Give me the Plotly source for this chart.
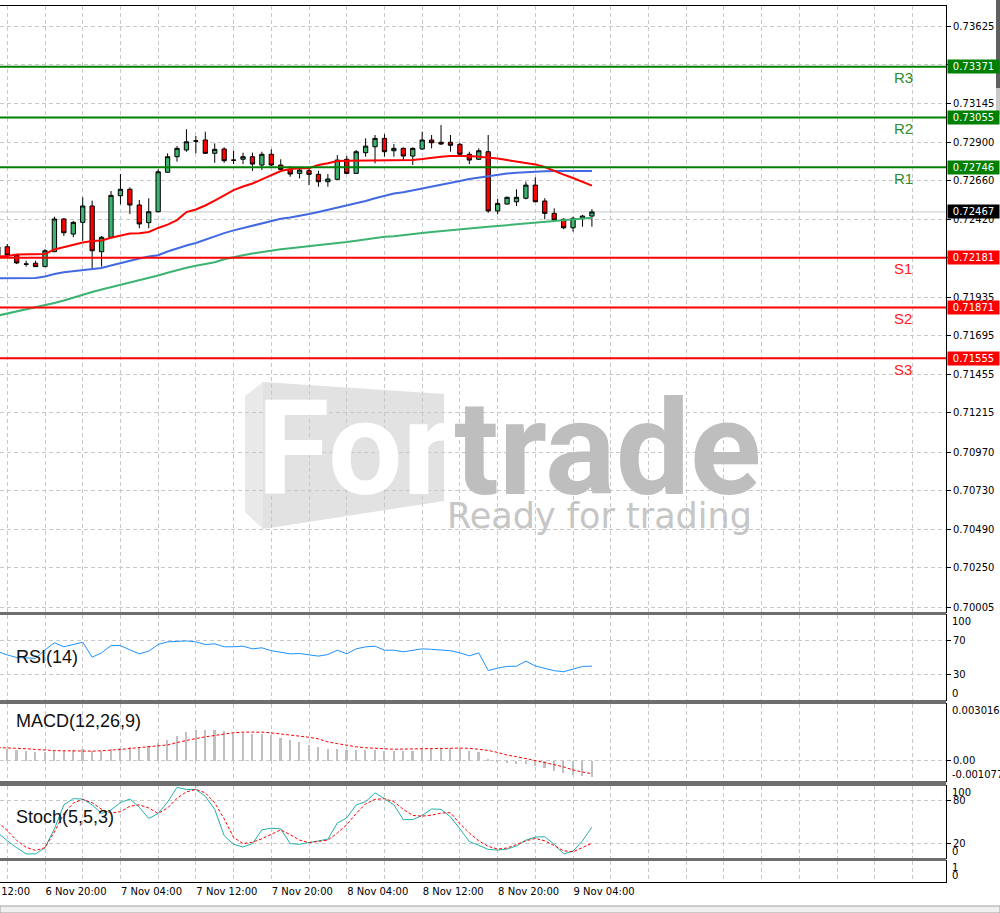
import pandas as pd
import plotly.graph_objects as go
from plotly.subplots import make_subplots

# ---------------- data ----------------
first_bar = "2018-11-06 15:00"          # H1 bars
n_bars = 64
times = pd.date_range(first_bar, periods=n_bars, freq="h")

open_ = [0.72248, 0.72250, 0.72198, 0.72143, 0.72147, 0.72126, 0.72219, 0.72423, 0.72329, 0.72402,
         0.72504, 0.72219, 0.72309, 0.72568, 0.72608, 0.72510, 0.72400, 0.72468, 0.72714, 0.72811,
         0.72853, 0.72910, 0.72915, 0.72832, 0.72859, 0.72790, 0.72795, 0.72811, 0.72759, 0.72826,
         0.72759, 0.72732, 0.72707, 0.72724, 0.72701, 0.72655, 0.72670, 0.72795, 0.72707, 0.72836,
         0.72873, 0.72925, 0.72848, 0.72863, 0.72815, 0.72859, 0.72915, 0.72901, 0.72901, 0.72888,
         0.72826, 0.72795, 0.72842, 0.72473, 0.72516, 0.72530, 0.72552, 0.72634, 0.72535, 0.72458,
         0.72421, 0.72368, 0.72427, 0.72441]
high = [0.72304, 0.72267, 0.72205, 0.72163, 0.72163, 0.72236, 0.72437, 0.72429, 0.72410, 0.72558,
        0.72537, 0.72317, 0.72597, 0.72703, 0.72620, 0.72541, 0.72552, 0.72732, 0.72832, 0.72877,
        0.72982, 0.72940, 0.72967, 0.72894, 0.72869, 0.72848, 0.72836, 0.72836, 0.72842, 0.72857,
        0.72795, 0.72753, 0.72748, 0.72745, 0.72724, 0.72703, 0.72821, 0.72815, 0.72853, 0.72925,
        0.72946, 0.72952, 0.72890, 0.72869, 0.72869, 0.72967, 0.72946, 0.73008, 0.72946, 0.72898,
        0.72842, 0.72863, 0.72946, 0.72547, 0.72562, 0.72608, 0.72655, 0.72682, 0.72552, 0.72489,
        0.72427, 0.72437, 0.72448, 0.72485]
low = [0.72167, 0.72180, 0.72142, 0.72126, 0.72124, 0.72124, 0.72217, 0.72317, 0.72309, 0.72287,
       0.72116, 0.72126, 0.72304, 0.72514, 0.72454, 0.72365, 0.72365, 0.72465, 0.72712, 0.72780,
       0.72842, 0.72832, 0.72830, 0.72773, 0.72773, 0.72765, 0.72765, 0.72722, 0.72728, 0.72753,
       0.72728, 0.72686, 0.72676, 0.72634, 0.72624, 0.72624, 0.72666, 0.72703, 0.72705, 0.72811,
       0.72770, 0.72811, 0.72811, 0.72790, 0.72759, 0.72853, 0.72863, 0.72884, 0.72842, 0.72821,
       0.72765, 0.72790, 0.72462, 0.72452, 0.72512, 0.72504, 0.72545, 0.72528, 0.72421, 0.72406,
       0.72359, 0.72344, 0.72375, 0.72375]
close = [0.72192, 0.72198, 0.72149, 0.72141, 0.72126, 0.72225, 0.72423, 0.72337, 0.72402, 0.72504,
         0.72225, 0.72309, 0.72570, 0.72608, 0.72510, 0.72392, 0.72468, 0.72717, 0.72811, 0.72863,
         0.72904, 0.72908, 0.72832, 0.72857, 0.72786, 0.72789, 0.72811, 0.72765, 0.72826, 0.72759,
         0.72732, 0.72703, 0.72728, 0.72701, 0.72655, 0.72672, 0.72790, 0.72707, 0.72842, 0.72877,
         0.72925, 0.72842, 0.72863, 0.72815, 0.72863, 0.72915, 0.72898, 0.72890, 0.72882, 0.72826,
         0.72790, 0.72848, 0.72473, 0.72520, 0.72558, 0.72558, 0.72634, 0.72530, 0.72458, 0.72416,
         0.72368, 0.72427, 0.72441, 0.72467]

ma_fast = [0.72188, 0.72192, 0.72201, 0.72203, 0.72203, 0.72205, 0.72233, 0.72248, 0.72261, 0.72276,
           0.72286, 0.72289, 0.72306, 0.72320, 0.72332, 0.72334, 0.72342, 0.72367, 0.72388, 0.72416,
           0.72466, 0.72482, 0.72507, 0.72538, 0.72569, 0.72603, 0.72625, 0.72644, 0.72670, 0.72697,
           0.72722, 0.72734, 0.72739, 0.72739, 0.72759, 0.72770, 0.72784, 0.72786, 0.72786, 0.72786,
           0.72786, 0.72787, 0.72790, 0.72790, 0.72790, 0.72796, 0.72805, 0.72811, 0.72815, 0.72817,
           0.72815, 0.72811, 0.72806, 0.72800, 0.72790, 0.72781, 0.72772, 0.72763, 0.72747, 0.72722,
           0.72699, 0.72678, 0.72653, 0.72631]
ma_mid = [0.72053, 0.72053, 0.72053, 0.72053, 0.72055, 0.72064, 0.72080, 0.72091, 0.72097, 0.72103,
          0.72111, 0.72117, 0.72133, 0.72149, 0.72163, 0.72177, 0.72189, 0.72197, 0.72220, 0.72240,
          0.72258, 0.72273, 0.72295, 0.72317, 0.72335, 0.72352, 0.72367, 0.72381, 0.72395, 0.72410,
          0.72424, 0.72432, 0.72441, 0.72454, 0.72467, 0.72480, 0.72492, 0.72506, 0.72519, 0.72535,
          0.72552, 0.72569, 0.72582, 0.72590, 0.72601, 0.72611, 0.72622, 0.72634, 0.72646, 0.72659,
          0.72672, 0.72681, 0.72691, 0.72699, 0.72706, 0.72711, 0.72715, 0.72719, 0.72720, 0.72722,
          0.72722, 0.72722, 0.72722, 0.72722]
ma_slow = [0.71821, 0.71834, 0.71845, 0.71857, 0.71870, 0.71884, 0.71899, 0.71915, 0.71934, 0.71952,
           0.71968, 0.71983, 0.71997, 0.72011, 0.72027, 0.72041, 0.72055, 0.72071, 0.72088, 0.72104,
           0.72119, 0.72131, 0.72144, 0.72153, 0.72172, 0.72186, 0.72197, 0.72208, 0.72218, 0.72228,
           0.72234, 0.72241, 0.72247, 0.72253, 0.72258, 0.72264, 0.72272, 0.72279, 0.72287, 0.72295,
           0.72304, 0.72312, 0.72315, 0.72323, 0.72329, 0.72335, 0.72342, 0.72348, 0.72351, 0.72357,
           0.72365, 0.72370, 0.72374, 0.72379, 0.72384, 0.72388, 0.72393, 0.72398, 0.72404, 0.72410,
           0.72415, 0.72420, 0.72425, 0.72431]

rsi = [57, 53, 50, 49.5, 49, 59, 67.3, 62.6, 65.3, 68, 50.4, 55.5, 64, 64, 59, 54.3, 57.5, 65.3, 68.4, 69,
       69.5, 68.4, 65.3, 66.1, 62.6, 62.6, 63.3, 60.2, 61.4, 58, 56, 54.3, 54.7, 53.5, 51.6, 53.5, 58.6,
       54.3, 60.2, 62.5, 63.3, 58.6, 58.6, 56.7, 58.5, 60.2, 59.6, 59, 58, 55.5, 52, 55.5, 34.7, 37.5,
       39.5, 39.8, 45.7, 40, 37.5, 34.5, 33.2, 36.7, 39.5, 39.8]

macd_main = [0.00060, 0.00065, 0.00056, 0.00051, 0.00047, 0.00047, 0.00053, 0.00053, 0.00056, 0.00060,
             0.00053, 0.00053, 0.00061, 0.00070, 0.00074, 0.00074, 0.00079, 0.00095, 0.00112, 0.00134,
             0.00153, 0.00162, 0.00165, 0.00162, 0.00156, 0.00149, 0.00146, 0.00144, 0.00144, 0.00135,
             0.00121, 0.00109, 0.00097, 0.00086, 0.00074, 0.00065, 0.00061, 0.00056, 0.00056, 0.00056,
             0.00056, 0.00053, 0.00051, 0.00051, 0.00054, 0.00060, 0.00063, 0.00065, 0.00065, 0.00060,
             0.00051, 0.00047, 0.00007, -0.00002, -0.00011, -0.00018, -0.00019, -0.00026, -0.00040,
             -0.00053, -0.00067, -0.00076, -0.00083, -0.00084]
macd_signal = [0.00070, 0.00069, 0.00067, 0.00064, 0.00060, 0.00056, 0.00054, 0.00053, 0.00051, 0.00051,
               0.00051, 0.00053, 0.00055, 0.00060, 0.00065, 0.00069, 0.00074, 0.00078, 0.00084, 0.00097,
               0.00109, 0.00118, 0.00127, 0.00134, 0.00142, 0.00149, 0.00152, 0.00153, 0.00152, 0.00148,
               0.00142, 0.00138, 0.00133, 0.00125, 0.00116, 0.00100, 0.00091, 0.00081, 0.00074, 0.00069,
               0.00065, 0.00063, 0.00061, 0.00062, 0.00063, 0.00065, 0.00068, 0.00069, 0.00069, 0.00067,
               0.00066, 0.00061, 0.00055, 0.00044, 0.00030, 0.00022, 0.00012, 0.00003, -0.00009,
               -0.00021, -0.00033, -0.00049, -0.00060, -0.00069]

stoch_k = [34.8, 23.8, 14.3, 5.7, 5.7, 14.3, 40.5, 73.8, 82.4, 81.9, 73.8, 61.9, 66.7, 77.1, 81.9, 70.5,
           54.8, 61.9, 77.6, 98.1, 95.2, 95.2, 85.7, 67.6, 31, 19.1, 15.3, 20, 39.1, 41.4, 40.5, 20,
           19.1, 21, 23.8, 26.2, 48.6, 55.7, 73.8, 78.1, 90.5, 82.4, 73.8, 53.3, 53.3, 59.1, 68.1, 67.6,
           57.2, 40.5, 22.9, 17.6, 11.9, 11, 12.4, 16.7, 24.8, 29.1, 29.5, 19.1, 5.7, 9.5, 23.8, 42.9]
stoch_d = [50, 38.1, 24.3, 14.8, 10.5, 14.3, 36.2, 61.9, 76.2, 81.4, 76.7, 67.6, 62.4, 64.3, 71.9, 73.8,
           69.5, 61.9, 69.5, 82.9, 91.9, 95.2, 90.5, 76.7, 54.3, 28.6, 20, 21.9, 26.7, 32.4, 39.1, 32.4,
           24.8, 21.4, 23.4, 24.8, 34.8, 46.2, 61.9, 75.2, 81.4, 82.4, 78.1, 67.6, 59.1, 58.1, 59.5, 62.4,
           62.9, 47.6, 34.8, 23.8, 16.2, 12.4, 13.8, 18.6, 23.8, 27.2, 23.8, 17.2, 10, 8.6, 14.8, 20.5]

level_names = ["R3", "R2", "R1", "S1", "S2", "S3"]
level_values = [0.73371, 0.73055, 0.72746, 0.72181, 0.71871, 0.71555]
last_price = 0.72467

price_ticks = [0.73625, 0.73385, 0.73145, 0.72900, 0.72660, 0.72420, 0.72180, 0.71935,
               0.71695, 0.71455, 0.71215, 0.70970, 0.70730, 0.70490, 0.70250, 0.70005]
price_range = [0.69974, 0.73750]
macd_range = [-0.001077, 0.003016]
x_range = ["2018-11-06 15:13:40", "2018-11-10 19:33:00"]

# time grid (every 4 h) and labelled times (every 8 h, only where bars exist)
grid_times = pd.date_range("2018-11-06 16:00", "2018-11-10 16:00", freq="4h")
label_until = pd.Timestamp("2018-11-09 04:00")
grid_text = [t.strftime("%-d %b %H:%M") if (t.hour in (4, 12, 20) and t <= label_until) else ""
             for t in grid_times]
hidden_left_label = pd.Timestamp("2018-11-06 12:00")

# ---------------- styling ----------------
H = 913.0
W = 1000.0
def py(p):  # pixel row -> paper y
    return 1 - p / H

GRID = "#C8C8C8"
DASH = "4px,3px"
GREEN_LVL = "#008000"
RED_LVL = "#FF0000"
AXFONT = dict(family="DejaVu Sans", size=10, color="#000000")
XDOM = [0, 0.946]

fig = make_subplots(rows=5, cols=1, shared_xaxes=True, vertical_spacing=0.0)

fig.add_trace(go.Candlestick(
    x=times, open=open_, high=high, low=low, close=close,
    increasing=dict(fillcolor="#3CB371", line=dict(color="#000000", width=1)),
    decreasing=dict(fillcolor="#FF0000", line=dict(color="#000000", width=1)),
    whiskerwidth=0, hoverinfo="skip"), row=1, col=1)
for series, col in [(ma_slow, "#3CB371"), (ma_mid, "#4169E1"), (ma_fast, "#FF0000")]:
    fig.add_trace(go.Scatter(x=times, y=series, mode="lines",
                             line=dict(color=col, width=2)), row=1, col=1)

fig.add_trace(go.Scatter(x=times, y=rsi, mode="lines",
                         line=dict(color="#1E90FF", width=1)), row=2, col=1)

fig.add_trace(go.Bar(x=times, y=macd_main, marker=dict(color="#C0C0C0", line=dict(width=0)),
                     width=0.17 * 3600000), row=3, col=1)
fig.add_trace(go.Scatter(x=times, y=macd_signal, mode="lines",
                         line=dict(color="#FF0000", width=1, dash="3px,2px")), row=3, col=1)

fig.add_trace(go.Scatter(x=times, y=stoch_k, mode="lines",
                         line=dict(color="#20B2AA", width=1)), row=4, col=1)
fig.add_trace(go.Scatter(x=times, y=stoch_d, mode="lines",
                         line=dict(color="#FF0000", width=1, dash="3px,2px")), row=4, col=1)

fig.add_trace(go.Scatter(x=times[:1], y=[0.5], mode="markers",
                         marker=dict(opacity=0)), row=5, col=1)

# axes
panel_px = [(6, 612), (615, 700), (704, 781), (786, 858), (861, 882)]
for i, (top, bot) in enumerate(panel_px, start=1):
    fig.update_yaxes(domain=[py(bot), py(top)], row=i, col=1)

fig.update_xaxes(type="date", range=x_range, domain=XDOM, showline=True, mirror=True,
                 linecolor="#000000", linewidth=1, zeroline=False,
                 tickmode="array", tickvals=grid_times, ticktext=grid_text,
                 showgrid=True, gridcolor=GRID, griddash=DASH, gridwidth=1,
                 showticklabels=False, ticks="", rangeslider=dict(visible=False),
                 automargin=False, fixedrange=True)
fig.update_xaxes(showticklabels=True, tickangle=0, ticklabelposition="outside right",
                 tickfont=AXFONT, row=5, col=1)

common_y = dict(side="right", showline=True, mirror=True, linecolor="#000000", linewidth=1,
                zeroline=False, showgrid=True, gridcolor=GRID, griddash=DASH, gridwidth=1,
                ticks="outside", ticklen=4, tickcolor="#000000", tickfont=AXFONT,
                automargin=False, fixedrange=True)
fig.update_yaxes(**common_y)
fig.update_yaxes(range=price_range, tickvals=price_ticks,
                 ticktext=[f"{v:.5f}" for v in price_ticks], row=1, col=1)
fig.update_yaxes(range=[0, 100], tickvals=[70, 30], ticktext=["70", "30"], row=2, col=1)
fig.update_yaxes(range=macd_range, tickvals=[0], ticktext=["0.00"], row=3, col=1)
fig.update_yaxes(range=[0, 100], tickvals=[80, 20], ticktext=["80", "20"], row=4, col=1)
fig.update_yaxes(range=[0, 1], tickvals=[], showgrid=False, row=5, col=1)

shapes = []
annotations = []

# Watermark (paper coordinates)
def pp(x, y):
    return f"{x / W:.4f},{py(y):.4f}"
box_front = [(263, 382), (444, 394), (444, 501), (263, 529)]
box_side = [(245, 396), (263, 382), (263, 529), (245, 512)]
for poly, colr in [(box_front, "#E2E2E2"), (box_side, "#E9E9E9")]:
    path = "M " + " L ".join(pp(x, y) for x, y in poly) + " Z"
    shapes.append(dict(type="path", xref="paper", yref="paper", path=path,
                       fillcolor=colr, line=dict(width=0), layer="below"))
annotations.append(dict(xref="paper", yref="paper", x=255 / W, y=py(449), xanchor="left",
                        yanchor="middle", showarrow=False,
                        text='<span style="color:#FFFFFF">For</span>trade',
                        font=dict(family="Roboto", size=132, color="#BEBEBE", weight="bold")))
annotations.append(dict(xref="paper", yref="paper", x=445 / W, y=py(516), xanchor="left",
                        yanchor="middle", showarrow=False, text="Ready for trading",
                        font=dict(family="DejaVu Sans", size=35, color="#C6C6C6")))

# last price line
shapes.append(dict(type="line", xref="x domain", yref="y", x0=0, x1=1, y0=last_price,
                   y1=last_price, line=dict(color="#C8C8C8", width=1), layer="below"))

# pivot levels
for name, val in zip(level_names, level_values):
    colr = GREEN_LVL if name.startswith("R") else RED_LVL
    tcol = "#2E8B2E" if name.startswith("R") else "#FF2020"
    shapes.append(dict(type="line", xref="x domain", yref="y", x0=0, x1=1, y0=val, y1=val,
                       line=dict(color=colr, width=2), layer="above"))
    annotations.append(dict(xref="paper", yref="y", x=0.892, y=val, yshift=-11,
                            xanchor="left", yanchor="middle", showarrow=False, text=name,
                            font=dict(family="Liberation Sans", size=15, color=tcol)))
    annotations.append(dict(xref="paper", yref="y", x=0.947, y=val, xanchor="left",
                            yanchor="middle", showarrow=False, text=f"{val:.5f}",
                            bgcolor=colr, width=49, height=11, borderpad=1, align="center",
                            font=dict(family="DejaVu Sans", size=10, color="#FFFFFF")))
annotations.append(dict(xref="paper", yref="y", x=0.947, y=last_price, xanchor="left",
                        yanchor="middle", showarrow=False, text=f"{last_price:.5f}",
                        bgcolor="#000000", width=49, height=11, borderpad=1, align="center",
                        font=dict(family="DejaVu Sans", size=10, color="#FFFFFF")))

# sub-panel edge labels
edge_labels = [("100", "y2", 1), ("0", "y2", 0), ("0.003016", "y3", 1), ("-0.001077", "y3", 0),
               ("100", "y4", 1), ("0", "y4", 0), ("1", "y5", 1), ("0", "y5", 0)]
for txt, yr, pos in edge_labels:
    annotations.append(dict(xref="paper", yref=f"{yr} domain", x=0.951, y=pos, xanchor="left",
                            yanchor="top" if pos == 1 else "bottom", showarrow=False, text=txt,
                            borderpad=0, font=AXFONT))

# time label whose tick lies left of the visible window (placed via the axis scale)
t0, t1 = pd.Timestamp(x_range[0]), pd.Timestamp(x_range[1])
frac = (hidden_left_label - t0) / (t1 - t0) * XDOM[1]
annotations.append(dict(xref="paper", yref="paper", x=frac, y=py(891), xanchor="left",
                        yanchor="middle", xshift=-3, showarrow=False,
                        text=hidden_left_label.strftime("%-d %b %H:%M"), font=AXFONT))

# indicator titles
for txt, yc in [("RSI(14)", 657), ("MACD(12,26,9)", 721), ("Stoch(5,5,3)", 817)]:
    annotations.append(dict(xref="paper", yref="paper", x=14 / W, y=py(yc), xanchor="left",
                            yanchor="middle", showarrow=False, text=txt,
                            font=dict(family="Liberation Sans", size=18, color="#111111")))

# panel separators
for a, b in [(612, 615), (700, 704), (781, 786), (858, 861)]:
    shapes.append(dict(type="rect", xref="paper", yref="paper", x0=0, x1=0.946,
                       y0=py(b), y1=py(a), fillcolor="#6E6E6E", line=dict(width=0), layer="above"))

# window chrome
shapes.append(dict(type="rect", xref="paper", yref="paper", x0=0, x1=1, y0=0, y1=py(906),
                   fillcolor="#F0F0F0", line=dict(color="#A0A0A0", width=1), layer="above"))
shapes.append(dict(type="rect", xref="paper", yref="paper", x0=0.996, x1=1, y0=py(88), y1=1,
                   fillcolor="#606060", line=dict(width=0), layer="above"))
shapes.append(dict(type="rect", xref="paper", yref="paper", x0=0.996, x1=1, y0=py(115), y1=py(88),
                   fillcolor="#C8C8C8", line=dict(width=0), layer="above"))

fig.update_layout(width=1000, height=913, margin=dict(l=0, r=0, t=0, b=0),
                  paper_bgcolor="#FFFFFF", plot_bgcolor="rgba(0,0,0,0)",
                  showlegend=False, hovermode=False, boxgap=0.35, bargap=0,
                  shapes=shapes, annotations=annotations)

fig.write_html("out.html", config={"displayModeBar": False},
               post_script="document.body.style.margin='0px';")
